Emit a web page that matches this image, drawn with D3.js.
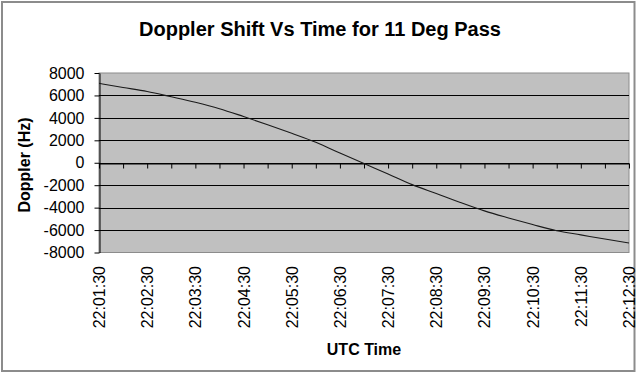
<!DOCTYPE html>
<html>
<head>
<meta charset="utf-8">
<script src="https://cdn.jsdelivr.net/npm/d3@7"></script>
<style>
  body { margin: 0; background: #fff; }
  text { font-family: "Liberation Sans", Arial, sans-serif; fill: #000; }
</style>
</head>
<body>
<div id="chart"></div>
<script>
!(function () {

  // one reading every 30 s, 22:01:30 .. 22:12:30
  var times = ['22:01:30', '22:02:00', '22:02:30', '22:03:00', '22:03:30', '22:04:00',
               '22:04:30', '22:05:00', '22:05:30', '22:06:00', '22:06:30', '22:07:00',
               '22:07:30', '22:08:00', '22:08:30', '22:09:00', '22:09:30', '22:10:00',
               '22:10:30', '22:11:00', '22:11:30', '22:12:00', '22:12:30'];
  var doppler = [7080, 6710, 6350, 5880, 5390, 4820, 4120, 3390, 2620, 1820, 870, -70,
                 -1000, -1950, -2740, -3540, -4290, -4920, -5510, -6060, -6430, -6800, -7160];
  var yTicks = [8000, 6000, 4000, 2000, 0, -2000, -4000, -6000, -8000];
  var xLabels = times.filter(function (d, i) { return i % 2 === 0; });

  var W = 640, H = 375;
  var plot = { left: 99, right: 629, top: 73, bottom: 252.5 };

  var svg = d3.select('#chart').append('svg')
              .attr('width', W)
              .attr('height', H);

  // outer frame
  svg.append('rect')
     .attr('x', 2).attr('y', 2)
     .attr('width', 632.5).attr('height', 369)
     .attr('fill', '#fff')
     .attr('stroke', '#8c8c8c')
     .attr('stroke-width', 2);

  var x = d3.scalePoint().domain(times).range([plot.left, plot.right]);
  var y = d3.scaleLinear().domain([-8000, 8000]).range([plot.bottom, plot.top]);

  // plot area
  svg.append('rect')
     .attr('x', plot.left).attr('y', plot.top)
     .attr('width', plot.right - plot.left)
     .attr('height', plot.bottom - plot.top)
     .attr('fill', '#c0c0c0')
     .attr('stroke', '#8c8c8c')
     .attr('stroke-width', 1);

  // horizontal gridlines
  svg.append('g').selectAll('line')
     .data(yTicks.filter(function (d) { return d !== 8000 && d !== -8000; }))
     .enter().append('line')
     .attr('x1', plot.left).attr('x2', plot.right)
     .attr('y1', function (d) { return Math.round(y(d)) + 0.5; })
     .attr('y2', function (d) { return Math.round(y(d)) + 0.5; })
     .attr('stroke', '#000')
     .attr('stroke-width', 1);

  // y axis (plain hyphen for negatives, like the original)
  var yAxis = svg.append('g')
                 .attr('transform', 'translate(' + (plot.left + 0.5) + ',0)')
                 .call(d3.axisLeft(y).tickValues(yTicks).tickSize(5).tickSizeOuter(0).tickPadding(10)
                         .tickFormat(function (d) { return String(d); }));
  yAxis.select('.domain').attr('stroke', '#000');
  yAxis.selectAll('.tick line').attr('stroke', '#000');
  yAxis.selectAll('.tick text')
       .style('font-family', '"Liberation Sans", Arial, sans-serif')
       .style('font-size', '16px')
       .attr('fill', '#000');

  // category axis crossing at zero, ticks pointing down
  var xAxis = svg.append('g')
                 .attr('transform', 'translate(0,' + (Math.round(y(0)) + 0.5) + ')')
                 .call(d3.axisBottom(x).tickSize(5).tickSizeOuter(0).tickFormat(''));
  xAxis.select('.domain').attr('stroke', '#000');
  xAxis.selectAll('.tick line').attr('stroke', '#000');

  // rotated time labels
  svg.append('g').selectAll('text')
     .data(xLabels)
     .enter().append('text')
     .attr('transform', function (d) {
       return 'translate(' + (x(d) + 6) + ',266) rotate(-90)';
     })
     .attr('text-anchor', 'end')
     .style('font-size', '16px')
     .text(function (d) { return d; });

  // series line
  var line = d3.line()
               .x(function (d, i) { return x(times[i]); })
               .y(function (d) { return y(d); })
               .curve(d3.curveMonotoneX);

  svg.append('path')
     .datum(doppler)
     .attr('d', line)
     .attr('fill', 'none')
     .attr('stroke', '#1a1a1a')
     .attr('stroke-width', 1.1);

  // titles
  svg.append('text')
     .attr('x', 320).attr('y', 36)
     .attr('text-anchor', 'middle')
     .style('font-size', '20px').style('font-weight', 'bold')
     .text('Doppler Shift Vs Time for 11 Deg Pass');

  svg.append('text')
     .attr('transform', 'translate(30,165) rotate(-90)')
     .attr('text-anchor', 'middle')
     .style('font-size', '16px').style('font-weight', 'bold')
     .text('Doppler (Hz)');

  svg.append('text')
     .attr('x', (plot.left + plot.right) / 2).attr('y', 355)
     .attr('text-anchor', 'middle')
     .style('font-size', '16px').style('font-weight', 'bold')
     .text('UTC Time');

})();
</script>
</body>
</html>
